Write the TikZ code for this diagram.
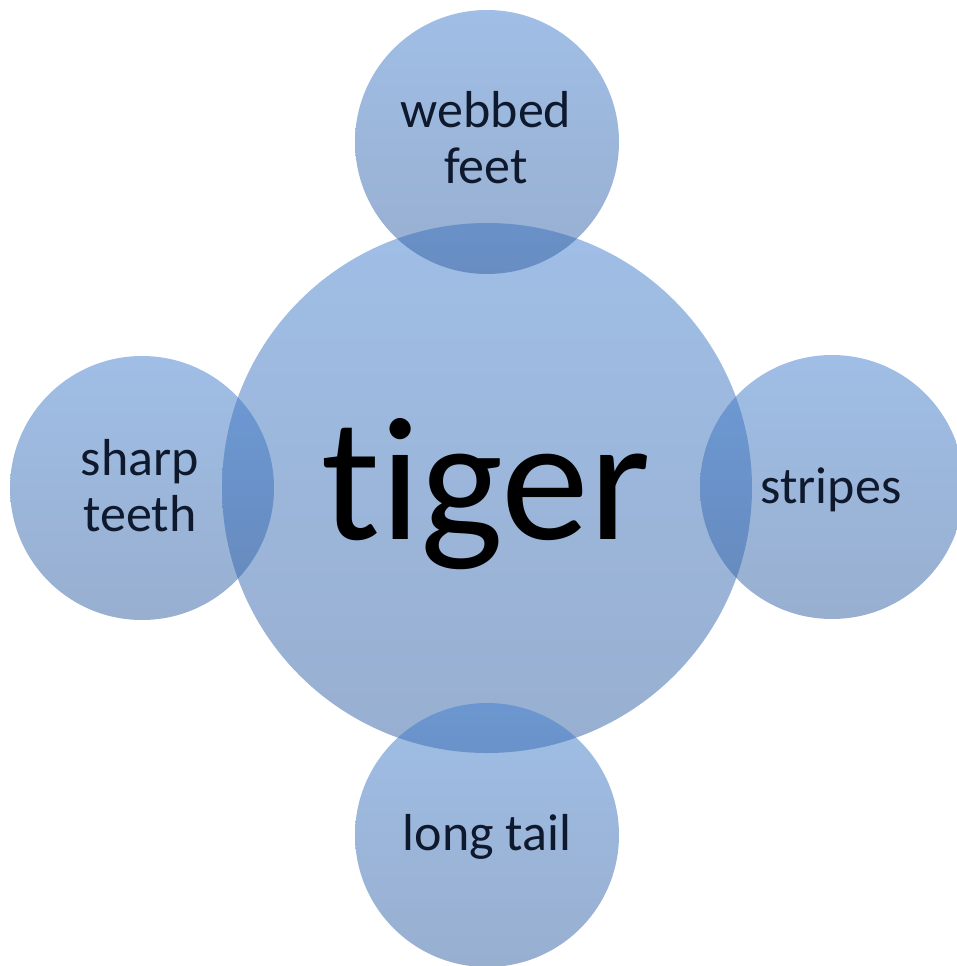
\documentclass[tikz,border=0pt]{standalone}
\usepackage{fontspec}
\setmainfont{Carlito}[Ligatures={NoCommon,NoRare,NoDiscretionary}]
\definecolor{ctop}{RGB}{65,125,205}
\definecolor{cbot}{RGB}{49,95,161}
\definecolor{txtc}{RGB}{15,25,45}
\tikzset{
  bubble/.style={circle, inner sep=0pt, draw=none, top color=ctop, bottom color=cbot, fill opacity=0.5},
  big/.style={bubble, minimum size=530pt},
  small/.style={bubble, minimum size=264pt},
  lbl/.style={inner sep=0pt, text=txtc, align=center, font=\fontsize{52}{56}\selectfont},
  title/.style={inner sep=0pt, text=black, font=\fontsize{176}{200}\selectfont}
}
\begin{document}
\begin{tikzpicture}[x=1pt,y=-1pt]
\useasboundingbox (0,0) rectangle (956,966);
\node[big] (tiger) at (487,488) {};
\node[small] (top) at (487,142) {};
\node[small] (left) at (142,488) {};
\node[small] (right) at (832,487) {};
\node[small] (bottom) at (487,835) {};
\node[title, anchor=base] (tigertxt) at (486,539) {tiger};
\node[lbl] (toptxt) at (486,137.5) {webbed\\feet};
\node[lbl] (lefttxt) at (140,485.5) {sharp\\teeth};
\node[lbl, anchor=base] (righttxt) at (831,503) {stripes};
\node[lbl, anchor=base] (bottomtxt) at (487,850) {long tail};
\end{tikzpicture}
\end{document}
